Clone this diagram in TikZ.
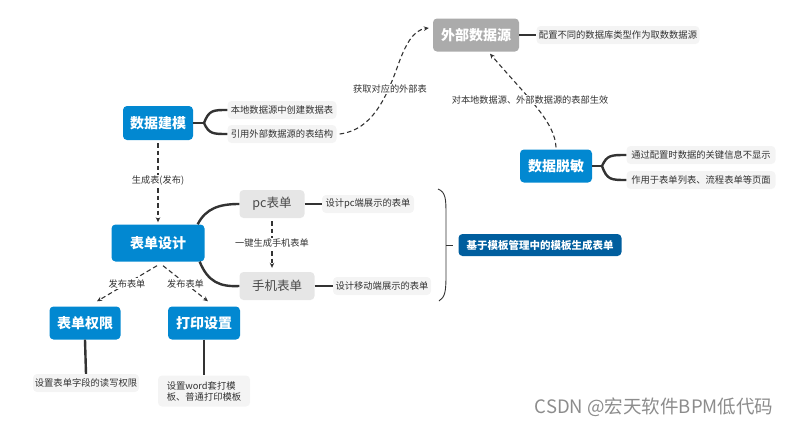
\documentclass[tikz,border=0pt]{standalone}
\usepackage{fontspec}
\setmainfont{Noto Sans CJK SC}
\usetikzlibrary{arrows.meta,backgrounds}
\definecolor{bluebox}{HTML}{0288D1}
\definecolor{darkblue}{HTML}{005E9E}
\definecolor{greybox}{HTML}{ABABAB}
\definecolor{lightbox}{HTML}{E6E6E6}
\definecolor{notebox}{HTML}{F4F4F4}
\definecolor{linec}{HTML}{333333}
\definecolor{textc}{HTML}{333333}
\begin{document}
\begin{tikzpicture}[x=1pt,y=-1pt,
  mainbox/.style={fill=bluebox, rounded corners=4pt, text=white, inner sep=0pt,
     font=\fontsize{14}{16}\selectfont\bfseries},
  extbox/.style={fill=greybox, rounded corners=4pt, text=white, inner sep=0pt,
     font=\fontsize{14}{16}\selectfont\bfseries},
  subbox/.style={fill=lightbox, rounded corners=4pt, text=textc!90, inner sep=0pt,
     font=\fontsize{12.5}{14}\selectfont},
  notebox/.style={fill=notebox, rounded corners=4pt, text=textc, inner sep=0pt,
     font=\fontsize{9.3}{11}\selectfont},
  lbl/.style={fill=white, text=textc, inner sep=1pt, font=\fontsize{9.2}{11}\selectfont},
  branch/.style={draw=linec, line width=2.4pt},
  dashy/.style={draw=linec, line width=1.1pt, dash pattern=on 4.5pt off 3pt,
     -{Stealth[length=5pt,width=4.5pt]}},
]
\useasboundingbox (0,0) rectangle (793,426);

% main nodes
\node[mainbox, minimum width=70pt, minimum height=34pt] (sjjm) at (158,123) {数据建模};
\node[notebox, minimum width=109pt, minimum height=18pt] (bd) at (282,110) {本地数据源中创建数据表};
\node[notebox, minimum width=109pt, minimum height=18pt] (yy) at (282,134) {引用外部数据源的表结构};

\node[extbox, minimum width=86pt, minimum height=33pt] (wb) at (476,35) {外部数据源};
\node[notebox, minimum width=163pt, minimum height=18pt] (pz) at (618,35) {配置不同的数据库类型作为取数数据源};

\node[mainbox, minimum width=72pt, minimum height=33pt] (tm) at (556,166) {数据脱敏};
\node[notebox, minimum width=149pt, minimum height=18pt] (tg) at (701,155) {通过配置时数据的关键信息不显示};
\node[notebox, minimum width=149pt, minimum height=18pt] (zy) at (701,180) {作用于表单列表、流程表单等页面};

\node[mainbox, minimum width=93pt, minimum height=37pt] (bdsj) at (158,243) {表单设计};
\node[subbox, minimum width=65pt, minimum height=28pt] (pc) at (272,204) {pc表单};
\node[notebox, minimum width=92pt, minimum height=18pt] (pcn) at (368,204) {设计pc端展示的表单};
\node[subbox, minimum width=75pt, minimum height=28pt] (sj) at (277,286) {手机表单};
\node[notebox, minimum width=98pt, minimum height=18pt] (sjn) at (382,286) {设计移动端展示的表单};

\node[fill=darkblue, rounded corners=4pt, text=white, inner sep=0pt,
  minimum width=163pt, minimum height=22pt, font=\fontsize{10.5}{12}\selectfont\bfseries]
  (mb) at (540,245) {基于模板管理中的模板生成表单};

\node[mainbox, minimum width=71pt, minimum height=33pt] (qx) at (85,323) {表单权限};
\node[mainbox, minimum width=72pt, minimum height=33pt] (dy) at (204,323) {打印设置};
\node[notebox, minimum width=106pt, minimum height=18pt] (qxn) at (86,383) {设置表单字段的读写权限};
\node[notebox, minimum width=92pt, minimum height=31pt, align=left] (dyn) at (204,391)
  {设置word套打模\\板、普通打印模板};

% solid branches
\coordinate (j1) at (204,123);
\draw[branch] (sjjm.east) -- (j1);
\draw[branch] (j1) .. controls (209,110) and (213,110) .. (bd.west);
\draw[branch] (j1) .. controls (209,134) and (213,134) .. (yy.west);

\coordinate (j2) at (602,166);
\draw[branch] (tm.east) -- (j2);
\draw[branch] (j2) .. controls (607,155) and (611,155) .. (tg.west);
\draw[branch] (j2) .. controls (607,180) and (611,180) .. (zy.west);

\draw[branch] (wb.east) -- (pz.west);
\draw[branch] (pc.east) -- (pcn.west);
\draw[branch] (sj.east) -- (sjn.west);

\draw[branch] ([xshift=-7pt]bdsj.north east) .. controls (206,208) and (220,204) .. (pc.west);
\draw[branch] ([xshift=-5pt]bdsj.south east) .. controls (208,282) and (220,287) .. (sj.west);

\draw[branch] (qx.south) -- (qxn.north);
\draw[branch] (dy.south) -- (dyn.north);

% bracket
\coordinate (bt) at (438,189);
\coordinate (bb) at (439,301);
\coordinate (bm) at (446,245);
\draw[linec, line width=0.9pt] (bt) .. controls (446,192) and (446,200) .. (446,215) -- (446,275)
  .. controls (446,292) and (445,297) .. (bb);
\draw[linec, line width=0.9pt] (bm) -- (453,245);

% dashed connectors
\draw[dashy] ([yshift=-3pt]sjjm.south) -- ([yshift=2pt]bdsj.north)
  node[lbl, pos=0.47] {生成表(发布)};
\draw[dashy] ([yshift=-3pt]pc.south) -- ([yshift=4pt]sj.north -| pc.south)
  node[lbl, pos=0.47] {一键生成手机表单};
\draw[dashy] ([xshift=-1pt,yshift=-4pt]bdsj.south) -- ([xshift=12pt,yshift=5pt]qx.north)
  node[lbl, pos=0.5] {发布表单};
\draw[dashy] ([xshift=5pt,yshift=-4pt]bdsj.south) -- ([xshift=4pt,yshift=5pt]dy.north)
  node[lbl, pos=0.5] {发布表单};

\draw[dashy] ([xshift=3pt]yy.east) .. controls (372,130) and (386,98) .. (397,68)
  .. controls (405,45) and (413,30) .. ([xshift=-4pt,yshift=7pt]wb.west);
\node[lbl] (l1) at (390,89) {获取对应的外部表};

\draw[dashy] ([yshift=2pt]tm.north) .. controls (555,122) and (528,98) .. ([xshift=14pt,yshift=-2pt]wb.south);
\node[lbl] (l2) at (530,100) {对本地数据源、外部数据源的表部生效};

% watermark
\node[text=black!45, font=\fontsize{18.5}{20}\selectfont] (wm) at (654,407) {CSDN @宏天软件BPM低代码};
\end{tikzpicture}
\end{document}
